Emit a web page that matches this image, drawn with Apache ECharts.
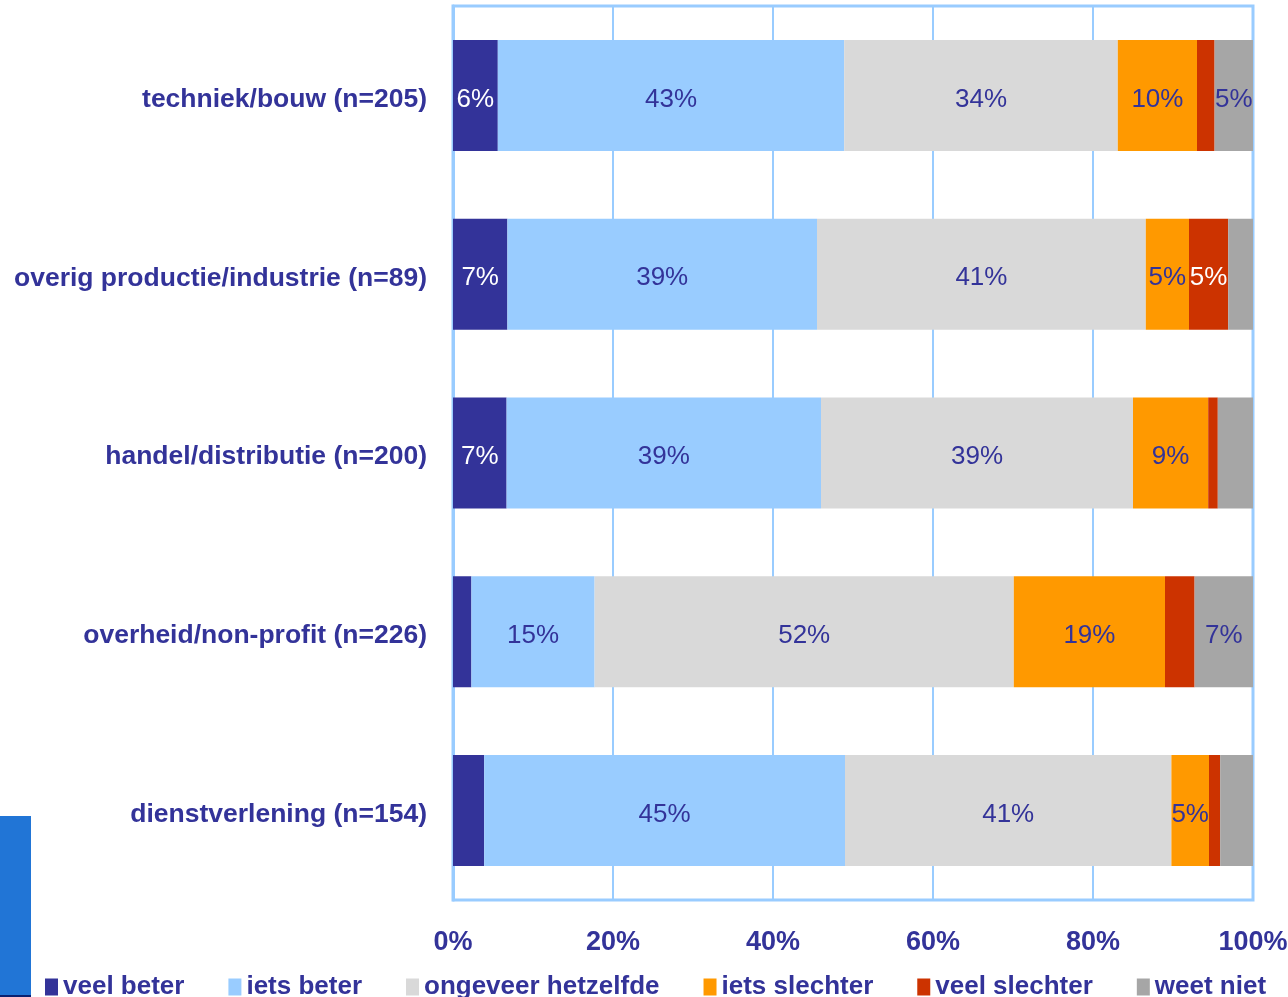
<!DOCTYPE html>
<html>
<head>
<meta charset="utf-8">
<script src="https://cdn.jsdelivr.net/npm/echarts@6/dist/echarts.min.js"></script>
<style>
  html, body { margin: 0; padding: 0; background: #fff; }
  #chart { width: 1288px; height: 997px; }
</style>
</head>
<body>
<div id="chart"></div>
<script>
// sectors (top to bottom)
const categories = [
  'techniek/bouw (n=205)',
  'overig productie/industrie (n=89)',
  'handel/distributie (n=200)',
  'overheid/non-profit (n=226)',
  'dienstverlening (n=154)'
]

// answer shares in %
const veelBeter      = [5.6, 6.8, 6.7, 2.3, 3.9]
const ietsBeter      = [43.3, 38.7, 39.3, 15.4, 45.1]
const ongeveer       = [34.2, 41.1, 39.0, 52.4, 40.8]
const ietsSlechter   = [9.9, 5.4, 9.4, 18.9, 4.7]
const veelSlechter   = [2.2, 4.9, 1.2, 3.7, 1.4]
const weetNiet       = [4.8, 3.1, 4.4, 7.3, 4.1]

const xTicks = [0, 20, 40, 60, 80, 100]

const FONT = '"Liberation Sans", Arial, sans-serif'
const TEXT = '#333399'

const seriesDefs = [
  { name: 'veel beter', data: veelBeter, color: '#333399', labelColor: '#ffffff' },
  { name: 'iets beter', data: ietsBeter, color: '#99ccff', labelColor: TEXT },
  { name: 'ongeveer hetzelfde', data: ongeveer, color: '#d9d9d9', labelColor: TEXT },
  { name: 'iets slechter', data: ietsSlechter, color: '#ff9900', labelColor: TEXT },
  { name: 'veel slechter', data: veelSlechter, color: '#cc3300', labelColor: '#ffffff' },
  { name: 'weet niet', data: weetNiet, color: '#a6a6a6', labelColor: TEXT }
]

const chart = echarts.init(document.getElementById('chart'), null, { renderer: 'canvas' })

const option = {
  animation: false,
  textStyle: { fontFamily: FONT },
  grid: {
    left: 453,
    right: 35,
    top: 6,
    bottom: 97,
    outerBoundsMode: 'none',
    containLabel: false,
    show: true,
    borderColor: '#99ccff',
    borderWidth: 3,
    backgroundColor: 'transparent'
  },
  legend: {
    left: 40,
    top: 969,
    itemWidth: 13,
    itemHeight: 17,
    itemGap: 44,
    icon: 'rect',
    data: seriesDefs.map(s => s.name),
    textStyle: { fontFamily: FONT, fontSize: 26, fontWeight: 'bold', color: TEXT }
  },
  xAxis: {
    type: 'value',
    min: 0,
    max: 100,
    interval: 20,
    axisLine: { show: false },
    axisTick: { show: false },
    splitLine: { show: true, lineStyle: { color: '#99ccff', width: 2 } },
    axisLabel: {
      margin: 29,
      fontFamily: FONT,
      fontSize: 27,
      fontWeight: 'bold',
      color: TEXT,
      customValues: xTicks,
      formatter: v => v + '%'
    }
  },
  yAxis: {
    type: 'category',
    inverse: true,
    data: categories,
    axisLine: { show: true, lineStyle: { color: '#99ccff', width: 3 } },
    axisTick: { show: false },
    axisLabel: {
      margin: 26,
      formatter: v => '{c|' + v + '}',
      rich: {
        c: {
          padding: [8, 0, 0, 0],
          fontFamily: FONT,
          fontSize: 26.5,
          fontWeight: 'bold',
          color: TEXT
        }
      }
    }
  },
  series: seriesDefs.map(s => ({
    name: s.name,
    type: 'bar',
    stack: 'total',
    barWidth: 111,
    data: s.data,
    itemStyle: { color: s.color },
    label: {
      show: true,
      position: 'inside',
      offset: [0, 4],
      fontFamily: FONT,
      fontSize: 26,
      color: s.labelColor,
      formatter: p => (Math.round(p.value) >= 5 ? Math.round(p.value) + '%' : '')
    }
  })),
  graphic: [
    {
      type: 'rect',
      left: 0,
      top: 816,
      shape: { width: 31, height: 181 },
      style: { fill: '#2175d6' }
    },
    {
      type: 'rect',
      left: 0,
      top: 995,
      shape: { width: 31, height: 2 },
      style: { fill: '#0a2070' }
    }
  ]
}

chart.setOption(option)
</script>
</body>
</html>
